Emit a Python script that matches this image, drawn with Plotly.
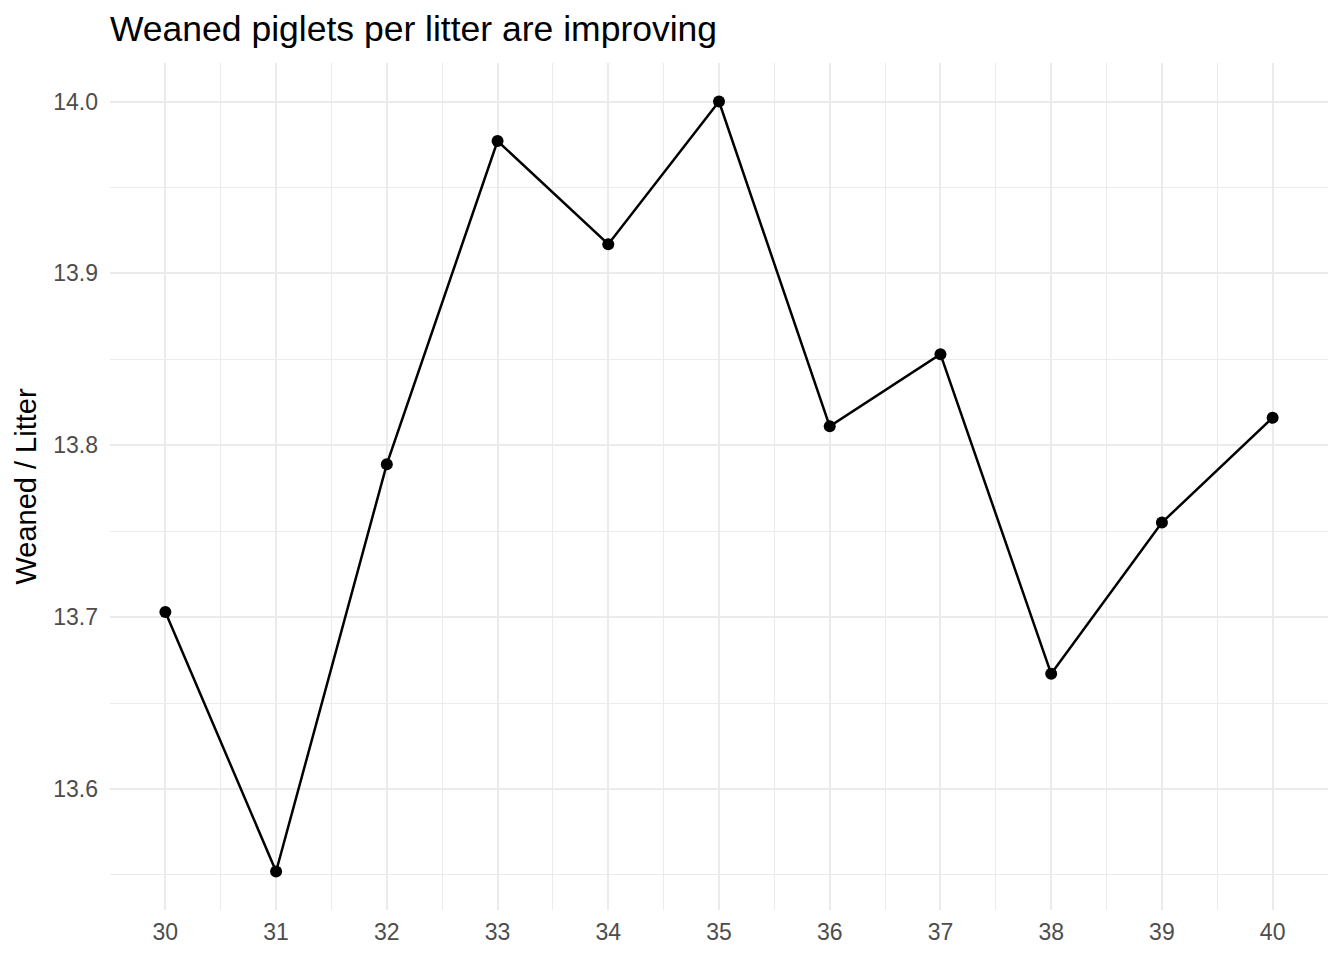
import plotly.graph_objects as go

weeks = [30, 31, 32, 33, 34, 35, 36, 37, 38, 39, 40]
weaned_per_litter = [13.703, 13.552, 13.789, 13.977, 13.917, 14.000, 13.811, 13.853, 13.667, 13.755, 13.816]
x_ticks = [30, 31, 32, 33, 34, 35, 36, 37, 38, 39, 40]
y_ticks = [13.6, 13.7, 13.8, 13.9, 14.0]
y_tick_labels = ["13.6", "13.7", "13.8", "13.9", "14.0"]

FONT = "Liberation Sans, Arial, Helvetica, sans-serif"
GRID = "#ebebeb"

fig = go.Figure()
fig.add_trace(go.Scatter(
    x=weeks, y=weaned_per_litter, mode="lines+markers",
    line=dict(color="black", width=2.5),
    marker=dict(color="black", size=12),
    showlegend=False,
))

ymin, ymax = min(weaned_per_litter), max(weaned_per_litter)
pad = (ymax - ymin) * 0.05

# page body has an 8px margin; the margins below compensate for it
fig.update_layout(
    width=1344, height=960,
    margin=dict(l=102, r=24, t=55, b=58),
    paper_bgcolor="white", plot_bgcolor="white",
    font=dict(family=FONT, color="black"),
    title=dict(text="Weaned piglets per litter are improving",
               font=dict(size=35.5, color="black", family=FONT),
               x=102/1344, xanchor="left", xref="container",
               y=1 - 21/960, yanchor="middle", yref="container"),
    xaxis=dict(
        range=[29.5, 40.5], tickmode="array", tickvals=x_ticks,
        ticktext=[str(v) for v in x_ticks],
        showgrid=True, gridcolor=GRID, gridwidth=2,
        zeroline=False, showline=False, ticks="", automargin=False,
        ticklabelstandoff=6,
        tickfont=dict(size=23, color="#4d4d4d", family=FONT),
        minor=dict(tickmode="linear", tick0=29.5, dtick=1, showgrid=True,
                   gridcolor=GRID, gridwidth=1, ticks=""),
    ),
    yaxis=dict(
        range=[ymin - pad, ymax + pad], tickmode="array", tickvals=y_ticks,
        ticktext=y_tick_labels,
        showgrid=True, gridcolor=GRID, gridwidth=2,
        zeroline=False, showline=False, ticks="", automargin=False,
        ticklabelstandoff=11,
        tickfont=dict(size=23, color="#4d4d4d", family=FONT),
        title=dict(text="Weaned / Litter", font=dict(size=29, color="black", family=FONT), standoff=8),
        minor=dict(tickmode="linear", tick0=13.55, dtick=0.1, showgrid=True,
                   gridcolor=GRID, gridwidth=1, ticks=""),
    ),
)

fig.write_html("out.html")
